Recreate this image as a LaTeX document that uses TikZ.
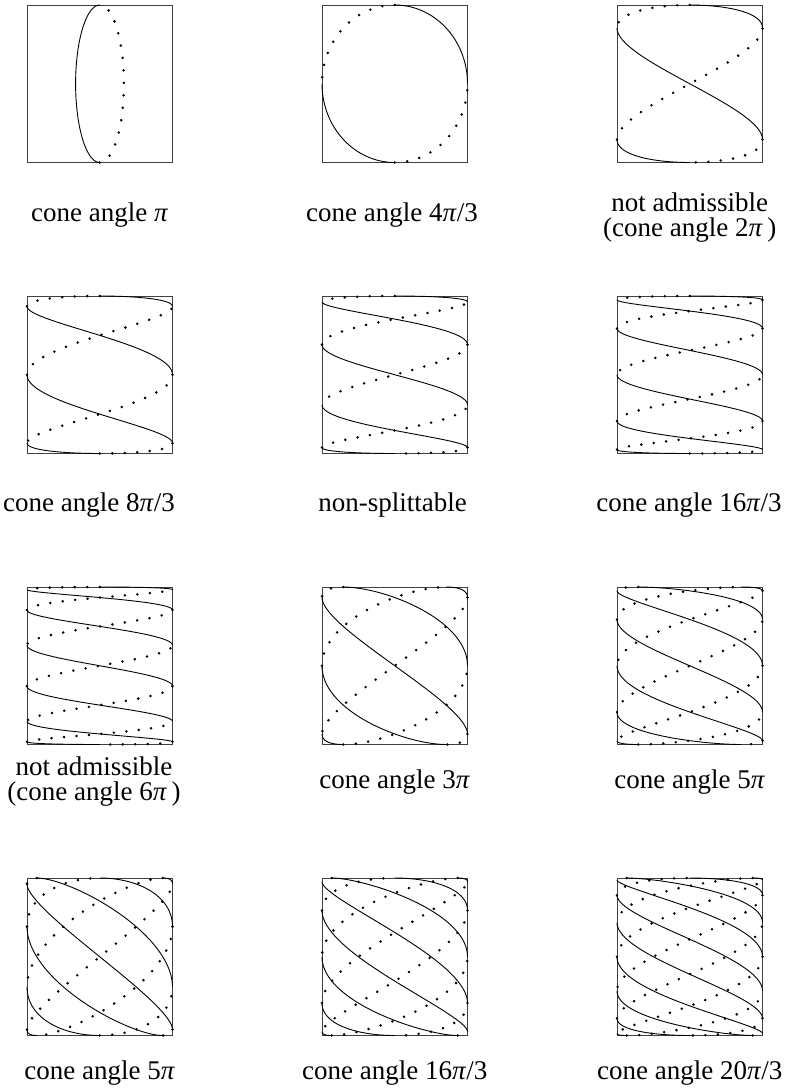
\documentclass[tikz,border=0pt]{standalone}
\usepackage{fontspec}
\setmainfont{Liberation Serif}
\newcommand{\ppi}{\textit{π}}
\newcommand{\PW}{145.5}
\newcommand{\PH}{157.5}
\tikzset{
  boxline/.style={draw=black!75, line width=0.9pt},
  solidc/.style={black, line width=0.9pt},
  dotc/.style={black, line width=2.8pt, line cap=round, dash pattern=on 0pt off 12.5pt},
  lab/.style={font=\fontsize{27}{25}\selectfont, align=center, inner sep=0pt},
}
% one piece of the Lissajous curve: style (0 solid / 1 dotted), t0, t1, a, b
\newcommand{\lpiece}[5]{%
  \ifnum#1=0
    \draw[solidc] plot[domain=#2:#3, samples=50, variable=\t] ({\PW*(1-cos(#4*\t))/2},{\PH*(1-cos(#5*\t+90/#4))/2});
  \else
    \draw[dotc] plot[domain=#2:#3, samples=50, variable=\t] ({\PW*(1-cos(#4*\t))/2},{\PH*(1-cos(#5*\t+90/#4))/2});
  \fi}
% a panel: top-left corner x, y, frequencies a, b
\newcommand{\lpanel}[4]{%
  \begin{scope}[shift={(#1,#2)}]
    \draw[boxline] (0,0) rectangle (\PW,\PH);
    \pgfmathtruncatemacro{\kmax}{2*#3-1}
    \foreach \k in {0,...,\kmax}{%
      \pgfmathsetmacro{\ta}{180*\k/#3}
      \pgfmathsetmacro{\tb}{180*(\k+1)/#3}
      \pgfmathtruncatemacro{\fs}{floor((2*#4*\k+1)/(2*#3))}
      \pgfmathtruncatemacro{\fe}{floor((2*#4*(\k+1)+1)/(2*#3))}
      \pgfmathtruncatemacro{\pp}{mod(\k+\fs,2)}
      \pgfmathtruncatemacro{\qq}{1-\pp}
      \ifnum\fe>\fs
        \pgfmathsetmacro{\tm}{(180*\fe-90/#3)/#4}
        \lpiece{\pp}{\ta}{\tm}{#3}{#4}
        \lpiece{\qq}{\tm}{\tb}{#3}{#4}
      \else
        \lpiece{\pp}{\ta}{\tb}{#3}{#4}
      \fi
    }
  \end{scope}}
\begin{document}
\begin{tikzpicture}[x=1pt,y=-1pt]
\useasboundingbox (0,0) rectangle (785,1089);
% row 1
\begin{scope}[shift={(27,5)}]
  \draw[boxline] (0,0) rectangle (\PW,\PH);
  \draw[solidc] plot[domain=0:180, samples=80, variable=\t] ({\PW*(0.5-0.166*sin(\t))},{\PH*(1-cos(\t))/2});
  \draw[dotc] plot[domain=180:360, samples=80, variable=\t] ({\PW*(0.5-0.166*sin(\t))},{\PH*(1-cos(\t))/2});
\end{scope}
\lpanel{322}{5}{1}{1}
\lpanel{617}{5}{2}{1}
% row 2
\lpanel{27}{296}{3}{1}
\lpanel{322}{296}{4}{1}
\lpanel{617}{296}{5}{1}
% row 3
\lpanel{27}{587}{6}{1}
\lpanel{322}{587}{3}{2}
\lpanel{617}{587}{5}{2}
% row 4
\lpanel{27}{878}{4}{3}
\lpanel{322}{878}{5}{3}
\lpanel{617}{878}{7}{3}
% labels
\node[lab] (l1) at (99.75,215) {cone angle \ppi};
\node[lab] (l2) at (392,215) {cone angle 4\ppi/3};
\node[lab] (l3) at (689.75,218) {not admissible\\(cone angle 2\ppi\,)};
\node[lab] (l4) at (89,505) {cone angle 8\ppi/3};
\node[lab] (l5) at (392.5,505) {non-splittable};
\node[lab] (l6) at (689,505) {cone angle 16\ppi/3};
\node[lab] (l7) at (94,782) {not admissible\\(cone angle 6\ppi\,)};
\node[lab] (l8) at (394.75,782) {cone angle 3\ppi};
\node[lab] (l9) at (689.75,782) {cone angle 5\ppi};
\node[lab] (l10) at (99.75,1073) {cone angle 5\ppi};
\node[lab] (l11) at (394.75,1073) {cone angle 16\ppi/3};
\node[lab] (l12) at (689.75,1073) {cone angle 20\ppi/3};
\end{tikzpicture}
\end{document}
